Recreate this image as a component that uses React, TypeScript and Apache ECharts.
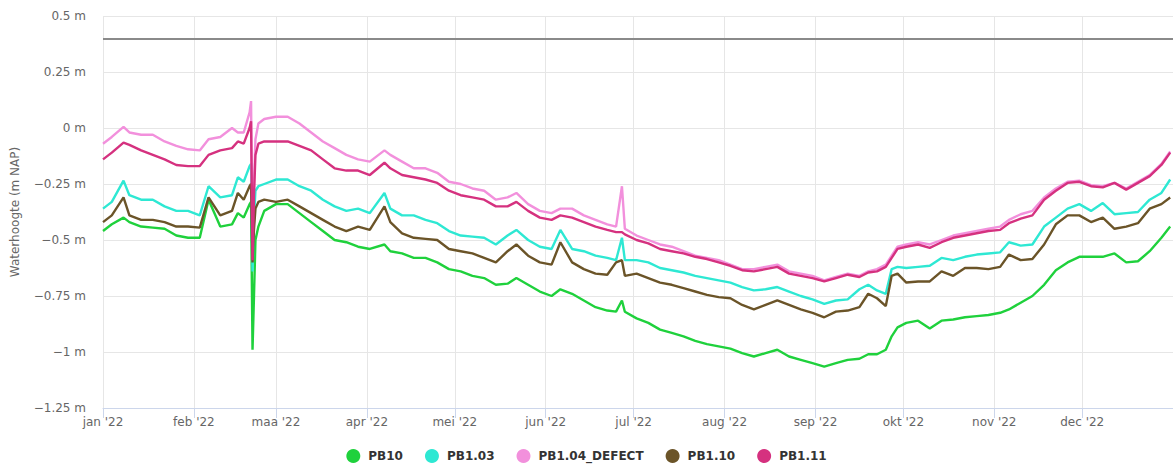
import React, { useEffect, useRef } from "react";
import * as echarts from "echarts";

const DATES = [
  "2022-01-01", "2022-01-04", "2022-01-08", "2022-01-10", "2022-01-14", "2022-01-18", "2022-01-22", "2022-01-26",
  "2022-01-30", "2022-02-03", "2022-02-06", "2022-02-10", "2022-02-14", "2022-02-16", "2022-02-18", "2022-02-20",
  "2022-02-20T12:00:00", "2022-02-21T00:00:00", "2022-02-21T12:00:00", "2022-02-22", "2022-02-23", "2022-02-25",
  "2022-03-01", "2022-03-05", "2022-03-09", "2022-03-13", "2022-03-17", "2022-03-21", "2022-03-25", "2022-03-29",
  "2022-04-02", "2022-04-07", "2022-04-09", "2022-04-13", "2022-04-17", "2022-04-21", "2022-04-25", "2022-04-29",
  "2022-05-03", "2022-05-07", "2022-05-11", "2022-05-15", "2022-05-19", "2022-05-22", "2022-05-26", "2022-05-30",
  "2022-06-03", "2022-06-06", "2022-06-10", "2022-06-14", "2022-06-18", "2022-06-22", "2022-06-25", "2022-06-27",
  "2022-06-28", "2022-07-02", "2022-07-06", "2022-07-10", "2022-07-14", "2022-07-18", "2022-07-22", "2022-07-26",
  "2022-07-30", "2022-08-03", "2022-08-07", "2022-08-11", "2022-08-15", "2022-08-19", "2022-08-23", "2022-08-27",
  "2022-08-31", "2022-09-04", "2022-09-08", "2022-09-12", "2022-09-16", "2022-09-19", "2022-09-22", "2022-09-25",
  "2022-09-27", "2022-09-29", "2022-10-02", "2022-10-06", "2022-10-10", "2022-10-14", "2022-10-18", "2022-10-22",
  "2022-10-26", "2022-10-30", "2022-11-03", "2022-11-06", "2022-11-10", "2022-11-14", "2022-11-18", "2022-11-22",
  "2022-11-26", "2022-11-30", "2022-12-04", "2022-12-08", "2022-12-12", "2022-12-16", "2022-12-20", "2022-12-24",
  "2022-12-28", "2022-12-31",
];

const PB10 = [
  -0.46, -0.43, -0.40, -0.42, -0.44, -0.445, -0.45, -0.48, -0.49, -0.49, -0.32, -0.44, -0.43, -0.38, -0.40, -0.34,
  -0.33, -0.99, -0.75, -0.50, -0.44, -0.37, -0.34, -0.34, -0.38, -0.42, -0.46, -0.50, -0.51, -0.53, -0.54, -0.52,
  -0.55, -0.56, -0.58, -0.58, -0.60, -0.63, -0.64, -0.66, -0.67, -0.70, -0.695, -0.67, -0.70, -0.73, -0.75, -0.72,
  -0.74, -0.77, -0.80, -0.815, -0.82, -0.77, -0.82, -0.85, -0.87, -0.90, -0.915, -0.93, -0.95, -0.965, -0.975, -0.985,
  -1.005, -1.02, -1.005, -0.99, -1.02, -1.035, -1.05, -1.065, -1.05, -1.035, -1.03, -1.01, -1.01, -0.99, -0.93, -0.89,
  -0.87, -0.86, -0.895, -0.86, -0.855, -0.845, -0.84, -0.835, -0.825, -0.81, -0.78, -0.75, -0.70, -0.635, -0.60, -0.575,
  -0.575, -0.575, -0.56, -0.60, -0.595, -0.55, -0.49, -0.44,
];

const PB1_03 = [
  -0.36, -0.33, -0.235, -0.30, -0.32, -0.32, -0.35, -0.37, -0.37, -0.39, -0.26, -0.31, -0.30, -0.22, -0.24, -0.17,
  -0.16, -0.64, -0.40, -0.28, -0.26, -0.25, -0.23, -0.23, -0.26, -0.28, -0.32, -0.35, -0.37, -0.36, -0.38, -0.29,
  -0.36, -0.39, -0.39, -0.41, -0.425, -0.46, -0.48, -0.485, -0.49, -0.52, -0.48, -0.455, -0.50, -0.53, -0.54, -0.455,
  -0.54, -0.55, -0.57, -0.58, -0.59, -0.49, -0.59, -0.59, -0.60, -0.625, -0.635, -0.645, -0.66, -0.67, -0.68, -0.69,
  -0.71, -0.725, -0.72, -0.71, -0.73, -0.75, -0.765, -0.785, -0.77, -0.765, -0.72, -0.70, -0.725, -0.74, -0.63, -0.62,
  -0.625, -0.62, -0.615, -0.58, -0.59, -0.575, -0.565, -0.56, -0.555, -0.51, -0.525, -0.52, -0.44, -0.40, -0.36, -0.34,
  -0.37, -0.335, -0.385, -0.38, -0.375, -0.32, -0.29, -0.23,
];

const PB1_04_DEFECT = [
  -0.07, -0.04, 0.005, -0.02, -0.03, -0.03, -0.06, -0.08, -0.095, -0.10, -0.05, -0.04, 0.0, -0.02, -0.02, 0.07,
  0.12, -0.58, -0.25, -0.05, 0.02, 0.04, 0.05, 0.05, 0.02, -0.02, -0.06, -0.09, -0.12, -0.14, -0.15, -0.10,
  -0.12, -0.15, -0.18, -0.18, -0.20, -0.24, -0.25, -0.27, -0.28, -0.32, -0.31, -0.29, -0.34, -0.37, -0.38, -0.36,
  -0.36, -0.39, -0.41, -0.43, -0.44, -0.26, -0.45, -0.48, -0.50, -0.52, -0.53, -0.55, -0.57, -0.58, -0.59, -0.61,
  -0.63, -0.63, -0.62, -0.61, -0.64, -0.65, -0.66, -0.68, -0.665, -0.65, -0.66, -0.64, -0.63, -0.61, -0.57, -0.53,
  -0.52, -0.51, -0.52, -0.50, -0.48, -0.47, -0.46, -0.45, -0.44, -0.41, -0.385, -0.37, -0.31, -0.27, -0.24, -0.235,
  -0.255, -0.26, -0.245, -0.27, -0.24, -0.21, -0.16, -0.105,
];

const PB1_10 = [
  -0.42, -0.39, -0.31, -0.39, -0.41, -0.41, -0.42, -0.44, -0.44, -0.445, -0.31, -0.39, -0.37, -0.29, -0.32, -0.26,
  -0.25, -0.60, -0.45, -0.36, -0.33, -0.32, -0.33, -0.32, -0.35, -0.38, -0.41, -0.44, -0.46, -0.44, -0.455, -0.35,
  -0.42, -0.47, -0.49, -0.495, -0.50, -0.54, -0.55, -0.56, -0.58, -0.60, -0.55, -0.52, -0.57, -0.60, -0.61, -0.51,
  -0.60, -0.63, -0.65, -0.655, -0.60, -0.59, -0.66, -0.65, -0.67, -0.69, -0.70, -0.715, -0.73, -0.745, -0.755, -0.76,
  -0.79, -0.81, -0.79, -0.77, -0.79, -0.81, -0.825, -0.845, -0.82, -0.815, -0.80, -0.74, -0.76, -0.795, -0.66, -0.65,
  -0.69, -0.685, -0.685, -0.64, -0.66, -0.625, -0.625, -0.63, -0.62, -0.565, -0.59, -0.585, -0.52, -0.43, -0.39, -0.39,
  -0.42, -0.40, -0.45, -0.44, -0.425, -0.36, -0.34, -0.31,
];

const PB1_11 = [
  -0.14, -0.11, -0.065, -0.075, -0.10, -0.12, -0.14, -0.165, -0.17, -0.17, -0.12, -0.10, -0.09, -0.06, -0.07, 0.0,
  0.03, -0.59, -0.30, -0.12, -0.07, -0.06, -0.06, -0.06, -0.08, -0.10, -0.14, -0.18, -0.19, -0.19, -0.21, -0.155,
  -0.18, -0.21, -0.22, -0.23, -0.245, -0.28, -0.30, -0.31, -0.32, -0.35, -0.35, -0.33, -0.37, -0.40, -0.41, -0.39,
  -0.40, -0.42, -0.44, -0.455, -0.465, -0.465, -0.475, -0.50, -0.515, -0.54, -0.55, -0.56, -0.575, -0.585, -0.60, -0.615,
  -0.635, -0.64, -0.63, -0.62, -0.65, -0.66, -0.67, -0.685, -0.67, -0.655, -0.665, -0.645, -0.64, -0.62, -0.58, -0.54,
  -0.53, -0.52, -0.535, -0.51, -0.49, -0.48, -0.47, -0.46, -0.455, -0.425, -0.405, -0.39, -0.32, -0.28, -0.245, -0.24,
  -0.26, -0.265, -0.245, -0.275, -0.245, -0.215, -0.165, -0.11,
];

const SERIES_NAMES = ["PB10", "PB1.03", "PB1.04_DEFECT", "PB1.10", "PB1.11"];
const SERIES_VALUES = [PB10, PB1_03, PB1_04_DEFECT, PB1_10, PB1_11];
const SERIES_COLORS = ["#1fd13c", "#2ee8d3", "#f290dc", "#6b5428", "#d5317f"];

const MONTH_LABELS = ["jan '22", "feb '22", "maa '22", "apr '22", "mei '22", "jun '22", "jul '22", "aug '22", "sep '22", "okt '22", "nov '22", "dec '22"];
const Y_MIN = -1.25;
const Y_MAX = 0.5;
const Y_STEP = 0.25;
const REFERENCE_LEVEL = 0.4;

const FONT = "'DejaVu Sans', Verdana, sans-serif";

export default function App() {
  const ref = useRef<HTMLDivElement>(null);

  useEffect(() => {
    if (!ref.current) return;
    const chart = echarts.init(ref.current, undefined, { renderer: "svg" });
    const series: any[] = SERIES_NAMES.map((name, si) => ({
      name,
      type: "line",
      showSymbol: false,
      symbol: "circle",
      symbolSize: 14,
      lineStyle: { width: 2.4, color: SERIES_COLORS[si] },
      itemStyle: { color: SERIES_COLORS[si] },
      data: DATES.map((d, i) => [d, SERIES_VALUES[si][i]]),
      z: 2 + si,
    }));
    series[0].markLine = {
      silent: true,
      symbol: "none",
      label: { show: false },
      lineStyle: { color: "#8a8a8a", width: 2, type: "solid" },
      data: [{ yAxis: REFERENCE_LEVEL }],
      z: 1,
    };

    chart.setOption({
      animation: false,
      textStyle: { fontFamily: FONT },
      grid: { left: 103, right: 0, top: 16, bottom: 64 },
      legend: {
        data: SERIES_NAMES,
        bottom: 4,
        left: "center",
        icon: "circle",
        itemWidth: 14,
        itemHeight: 14,
        itemGap: 22,
        textStyle: { fontFamily: FONT, fontSize: 12, fontWeight: "bold", color: "#333333", padding: [0, 0, 0, 3] },
      },
      xAxis: {
        type: "time",
        min: "2022-01-01",
        max: "2022-12-31T23:00:00",
        splitNumber: 12,
        axisLine: { show: true, onZero: false, lineStyle: { color: "#ccd6eb", width: 1 } },
        axisTick: { show: true, length: 10, lineStyle: { color: "#ccd6eb" } },
        splitLine: { show: true, lineStyle: { color: "#e6e6e6", width: 1 } },
        axisLabel: {
          color: "#666666",
          fontSize: 12,
          fontFamily: FONT,
          margin: 8,
          hideOverlap: false,
          formatter: (val: number) => MONTH_LABELS[new Date(val).getMonth()],
        },
      },
      yAxis: {
        type: "value",
        min: Y_MIN,
        max: Y_MAX,
        interval: Y_STEP,
        name: "Waterhoogte (m NAP)",
        nameLocation: "middle",
        nameGap: 82,
        nameRotate: 90,
        nameTextStyle: { color: "#666666", fontSize: 12, fontFamily: FONT },
        axisLine: { show: false },
        axisTick: { show: false },
        splitLine: { show: true, lineStyle: { color: "#e6e6e6", width: 1 } },
        axisLabel: {
          color: "#666666",
          fontSize: 12,
          fontFamily: FONT,
          margin: 17,
          formatter: (v: number) => (v < 0 ? "\u2212" : "") + String(Math.abs(v)) + " m",
        },
      },
      series,
    });
    return () => chart.dispose();
  }, []);

  return (
    <div
      ref={ref}
      style={{ position: "fixed", left: 0, top: 0, width: 1173, height: 472, background: "#ffffff" }}
    />
  );
}
